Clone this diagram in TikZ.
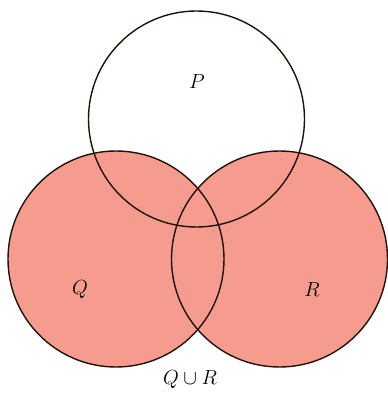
\documentclass[tikz,border=0pt]{standalone}
\usepackage{graphicx}
\newcommand{\biglab}[1]{\scalebox{1.18}{\LARGE$#1$}}
\begin{document}
\begin{tikzpicture}[x=1pt,y=-1pt,
  ring/.style={draw=black!85!brown, line width=1.4pt},
  lab/.style={inner sep=0pt}]
\definecolor{salmon}{RGB}{246,156,142}
\useasboundingbox (0,0) rectangle (387,395);
\fill[salmon] (116,259) circle (108);
\fill[salmon] (279.5,259) circle (108);
\draw[ring] (196.5,119) circle (108);
\draw[ring] (116,259) circle (108);
\draw[ring] (279.5,259) circle (108);
\node[lab] (p) at (197,82) {\biglab{P}};
\node[lab] (q) at (80,290) {\biglab{Q}};
\node[lab] (r) at (312,290) {\biglab{R}};
\node[lab] (u) at (190,380) {\biglab{Q\cup R}};
\end{tikzpicture}
\end{document}
